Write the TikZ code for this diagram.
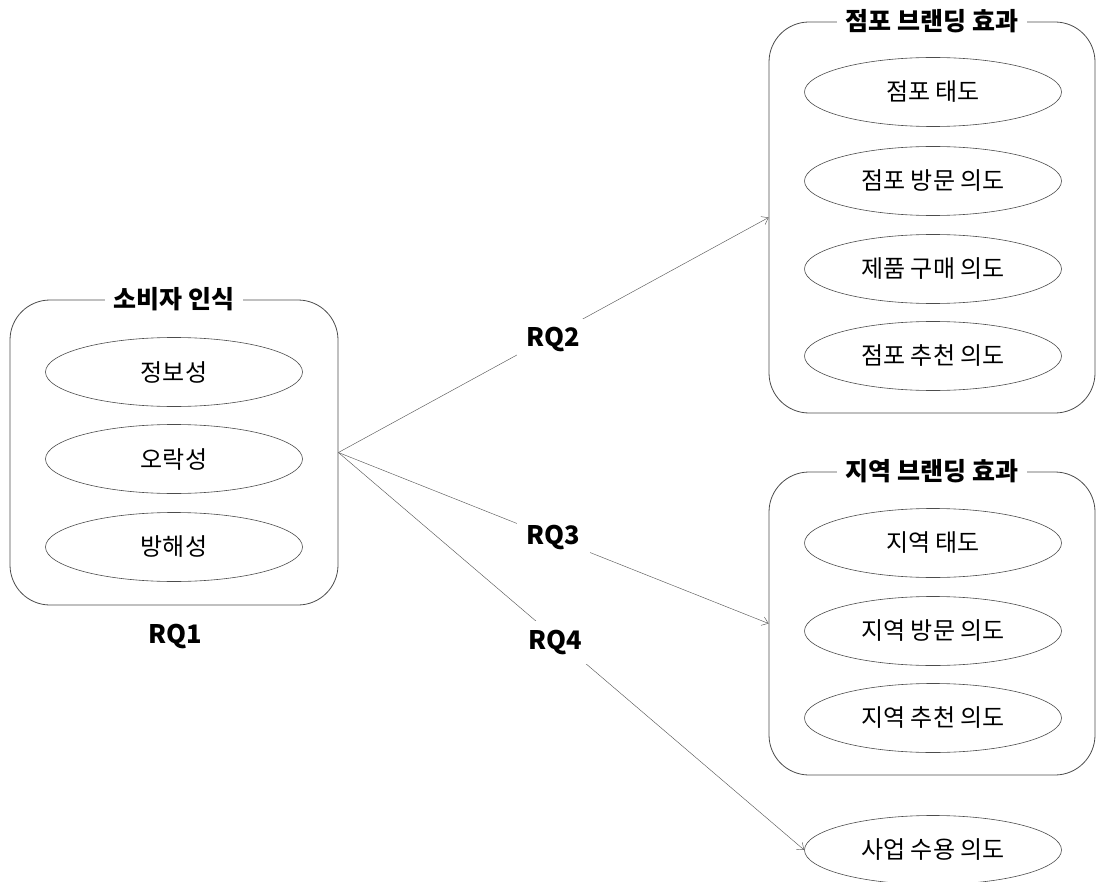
\documentclass[tikz,border=0pt]{standalone}
\usepackage{fontspec}
\setmainfont{Noto Sans CJK KR}
\usetikzlibrary{arrows.meta,shapes.geometric}
\tikzset{
  grp/.style={draw=black!70, line width=0.8pt, rounded corners=40pt, inner sep=0pt},
  item/.style={draw=black!70, line width=0.6pt, ellipse, minimum width=257pt, minimum height=69pt, inner sep=0pt, font=\fontsize{24}{28}\selectfont},
  ttl/.style={fill=white, inner xsep=9pt, inner ysep=2pt, font=\fontsize{25}{29}\selectfont\bfseries},
  rq/.style={fill=white, inner xsep=10pt, inner ysep=9pt, font=\fontsize{25.5}{29}\selectfont\bfseries},
  conn/.style={draw=black!65, line width=0.45pt, -{Straight Barb[length=6pt,width=9pt]}}
}
\begin{document}
\begin{tikzpicture}[x=1pt,y=-1pt]
\useasboundingbox (0,0) rectangle (1099,882);
% left group
\node[grp, minimum width=328pt, minimum height=305pt] (L) at (174,452.5) {};
\node[ttl] (Lt) at (174,299) {소비자 인식};
\node[item] (a1) at (174,372) {정보성};
\node[item] (a2) at (174,459) {오락성};
\node[item] (a3) at (174,547) {방해성};
\node[font=\fontsize{25.5}{29}\selectfont\bfseries] (rq1) at (175,637) {RQ1};
% right top group
\node[grp, minimum width=326pt, minimum height=391pt] (B1) at (932,217.5) {};
\node[ttl] (B1t) at (932,21) {점포 브랜딩 효과};
\node[item] (s1) at (933,92) {점포 태도};
\node[item] (s2) at (933,181) {점포 방문 의도};
\node[item] (s3) at (933,269) {제품 구매 의도};
\node[item] (s4) at (933,356) {점포 추천 의도};
% right bottom group
\node[grp, minimum width=326pt, minimum height=303pt] (B2) at (932,623.5) {};
\node[ttl] (B2t) at (932,471) {지역 브랜딩 효과};
\node[item] (r1) at (933,543) {지역 태도};
\node[item] (r2) at (933,631) {지역 방문 의도};
\node[item] (r3) at (933,718) {지역 추천 의도};
% standalone
\node[item] (u) at (933,850) {사업 수용 의도};
% connectors
\draw[conn] (L.east) -- node[rq, pos=0.5, yshift=-5pt] (rq2) {RQ2} (B1.west);
\draw[conn] (L.east) -- node[rq, pos=0.5] (rq3) {RQ3} (B2.west);
\draw[conn] (L.east) -- node[rq, pos=0.465, yshift=-5pt] (rq4) {RQ4} (u.west);
\end{tikzpicture}
\end{document}
